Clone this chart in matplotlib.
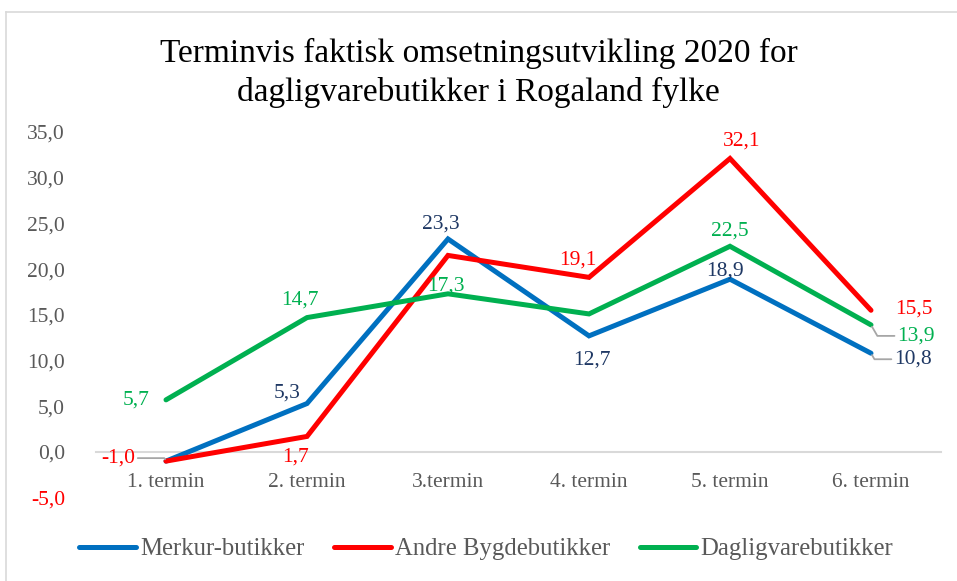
import matplotlib

matplotlib.use("Agg")
import matplotlib.pyplot as plt
from matplotlib.lines import Line2D
from matplotlib.ticker import FuncFormatter

terms = ["1. termin", "2. termin", "3.termin", "4. termin", "5. termin", "6. termin"]
merkur = [-1.0, 5.3, 23.3, 12.7, 18.9, 10.8]
andre = [-1.0, 1.7, 21.5, 19.1, 32.1, 15.5]
dagligvare = [5.7, 14.7, 17.3, 15.1, 22.5, 13.9]

names = ["Merkur-butikker", "Andre Bygdebutikker", "Dagligvarebutikker"]
line_colors = ["#0070C0", "#FF0000", "#00B050"]
label_colors = ["#1F3864", "#FF0000", "#00B050"]

# label offsets in pixels (dx, dy) per point, None = no label, "L" = leader line
offsets = [
    [None, (-20, 10), (-7, 15), (3, -24), (-5, 8), (42, -6, "L")],
    [(-48, 3, "L"), (-11, -21), None, (-11, 17), (12, 17), (43, 1)],
    [(-30, 0), (-7, 18), (-2, 8), None, (0, 15), (45, -11, "L")],
]

FONT = "Liberation Serif"
GRAY = "#595959"


def fmt(v):
    return f"{v:.1f}".replace(".", ",")


def main():
    plt.rcParams["font.family"] = FONT
    fig = plt.figure(figsize=(9.57, 5.81), dpi=100)
    ax = fig.add_axes([0.0998, 0.1434, 0.884, 0.6294])

    x = list(range(len(terms)))
    series = [merkur, andre, dagligvare]
    for vals, name, lc, tc, offs in zip(series, names, line_colors, label_colors, offsets):
        ax.plot(x, vals, color=lc, linewidth=3.6, label=name,
                solid_capstyle="round", solid_joinstyle="miter", zorder=3)
        for xi, v, off in zip(x, vals, offs):
            if off is None:
                continue
            dx, dy = off[0], off[1]
            arrow = None
            if len(off) > 2:
                arrow = dict(arrowstyle="-", color="#A6A6A6", lw=1.3,
                             shrinkA=21, shrinkB=1.5,
                             connectionstyle="angle,angleA=0,angleB=-60,rad=0")
            ax.annotate(fmt(v), (xi, v), xytext=(dx, dy), textcoords="offset pixels",
                        ha="center", va="center", color=tc, fontsize=15.5,
                        arrowprops=arrow, zorder=4)

    ax.set_xlim(-0.5, len(terms) - 0.5)
    ax.set_ylim(-5, 35)
    ax.set_yticks(range(-5, 36, 5))
    ax.yaxis.set_major_formatter(FuncFormatter(lambda v, p: fmt(v)))
    ax.set_xticks(x)
    ax.set_xticklabels(terms)

    for s in ["top", "right", "left"]:
        ax.spines[s].set_visible(False)
    ax.spines["bottom"].set_position(("data", 0))
    ax.spines["bottom"].set_color("#D9D9D9")
    ax.spines["bottom"].set_linewidth(1.5)
    ax.tick_params(axis="both", length=0, labelsize=15.5, labelcolor=GRAY)
    ax.tick_params(axis="x", pad=15)
    ax.tick_params(axis="y", pad=22)
    for lbl in ax.get_yticklabels():
        if lbl.get_text().startswith("-"):
            lbl.set_color("#FF0000")

    fig.suptitle("Terminvis faktisk omsetningsutvikling 2020 for\ndagligvarebutikker i Rogaland fylke",
                 y=0.935, fontsize=24, linespacing=1.32, color="black")

    handles, labels = ax.get_legend_handles_labels()
    fig.legend(handles, labels, loc="center", bbox_to_anchor=(0.508, 0.055), ncol=3,
               frameon=False, fontsize=17.8, handlelength=2.3, handletextpad=0.15,
               columnspacing=1.2, labelcolor=GRAY)

    fig.add_artist(Line2D([0.006, 0.006], [0.0, 0.979], color="#D9D9D9", lw=1.2))
    fig.add_artist(Line2D([0.006, 1.0], [0.979, 0.979], color="#D9D9D9", lw=1.2))

    fig.savefig("out.png", dpi=100)
    plt.close(fig)


if __name__ == "__main__":
    main()
